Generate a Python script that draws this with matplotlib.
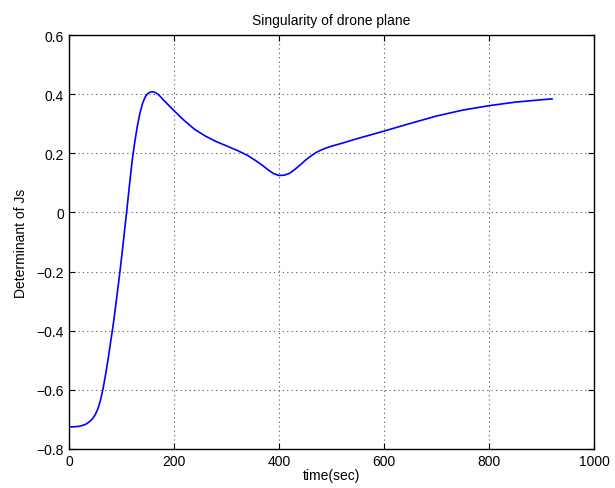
import matplotlib.pyplot as plt

plt.rcParams['font.family'] = ['Liberation Sans', 'DejaVu Sans']

time_sec = [0, 10, 20, 30, 35, 40, 45, 50, 55, 60, 65, 70, 75, 80, 85, 90, 95, 100,
            105, 110, 115, 120, 125, 130, 135, 140, 145, 150, 155, 160, 165, 170,
            175, 180, 190, 200, 220, 240, 260, 280, 300, 320, 340, 360, 370, 380,
            390, 400, 410, 420, 430, 440, 450, 460, 470, 480, 490, 500, 520, 550,
            600, 650, 700, 750, 800, 850, 900, 920]
det_js = [-0.725, -0.725, -0.723, -0.718, -0.713, -0.706, -0.697, -0.684, -0.664,
          -0.635, -0.595, -0.545, -0.49, -0.43, -0.37, -0.30, -0.23, -0.155,
          -0.075, 0.005, 0.09, 0.17, 0.235, 0.29, 0.335, 0.368, 0.39, 0.402,
          0.407, 0.408, 0.405, 0.399, 0.39, 0.38, 0.362, 0.344, 0.31, 0.28,
          0.258, 0.24, 0.225, 0.21, 0.193, 0.17, 0.157, 0.143, 0.131, 0.125,
          0.126, 0.132, 0.145, 0.16, 0.176, 0.19, 0.202, 0.211, 0.218, 0.224,
          0.234, 0.25, 0.275, 0.301, 0.326, 0.346, 0.361, 0.373, 0.381, 0.384]

xticks = [0, 200, 400, 600, 800, 1000]
yticks = [-0.8, -0.6, -0.4, -0.2, 0, 0.2, 0.4, 0.6]

fig = plt.figure(figsize=(6.15, 4.89), dpi=100)
ax = fig.add_axes([69 / 615, 1 - 450 / 489, 525 / 615, 414 / 489])

ax.plot(time_sec, det_js, color='#0000ff', lw=1.2)

ax.set_xlim(0, 1000)
ax.set_ylim(-0.8, 0.6)
ax.set_xticks(xticks)
ax.set_yticks(yticks)
ax.set_yticklabels(['\u22120.8', '\u22120.6', '\u22120.4', '\u22120.2', '0', '0.2', '0.4', '0.6'])
ax.tick_params(direction='in', top=True, right=True, labelsize=10, length=4, width=0.8)
ax.grid(True, linestyle=(0, (1, 3)), color='#555555', lw=0.8)
for s in ax.spines.values():
    s.set_linewidth(1.0)

ax.set_xlabel('time(sec)', fontsize=10, labelpad=0)
ax.set_ylabel('Determinant of Js', fontsize=10, labelpad=6)
ax.set_title('Singularity of drone plane', fontsize=10, pad=8)

fig.savefig('out.png', dpi=100)
